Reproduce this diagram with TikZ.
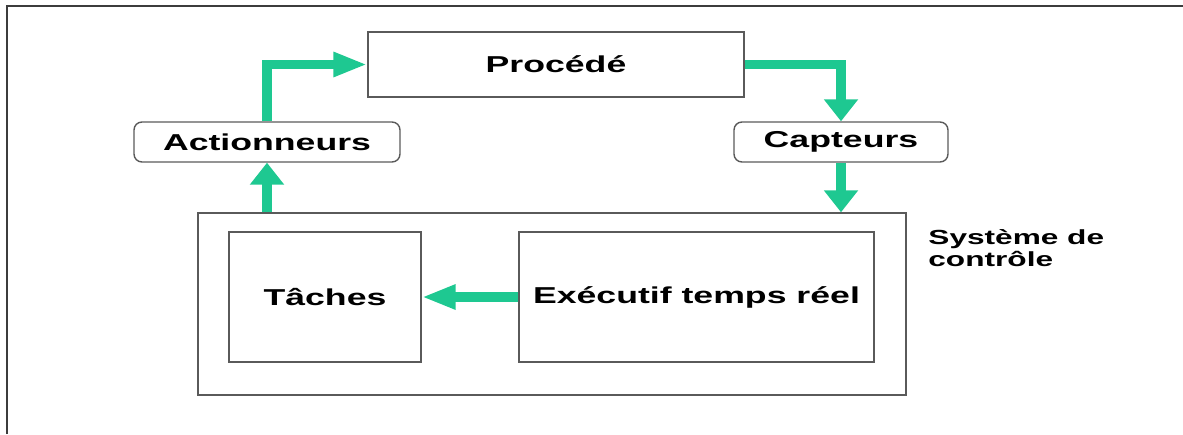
\documentclass[tikz,border=0pt]{standalone}
\usepackage{fontspec}
\setmainfont{Liberation Sans}
\newfontfamily\widefont[FakeStretch=1.55]{Liberation Sans}
\usepackage{xcolor}
\usetikzlibrary{positioning,arrows.meta}
\definecolor{flowgreen}{RGB}{30,200,145}
\definecolor{boxgray}{RGB}{90,90,90}
\definecolor{framegray}{RGB}{60,60,60}

\begin{document}
\begin{tikzpicture}[x=0.5pt,y=-0.5pt,
    block/.style={draw=boxgray,line width=0.7pt,inner sep=0pt,
      font=\widefont\bfseries\fontsize{11.5}{13}\selectfont},
    roundblock/.style={block,rounded corners=4pt},
    flow/.style={draw=flowgreen,line width=4.7pt},
    vflow/.style={flow,-{Triangle[length=11pt,width=16.5pt]}},
    hflow/.style={flow,-{Triangle[length=17pt,width=11.5pt]}}]
    \useasboundingbox (0,0) rectangle (1183,434);
    % page frame
    \draw[framegray,line width=1pt] (7,434) -- (7,5.5) -- (1183,5.5);
    % blocks
    \node[block,minimum width=188pt,minimum height=32.5pt] (proc) at (556,64.5) {Procédé};
    \node[roundblock,minimum width=133pt,minimum height=20pt] (act) at (267,142) {Actionneurs};
    \node[roundblock,minimum width=107pt,minimum height=20pt] (capt) at (841,142) {Capteurs};
    \node[block,minimum width=354pt,minimum height=91pt] (sys) at (552,304) {};
    \node[block,minimum width=96pt,minimum height=65pt] (task) at (325,297) {Tâches};
    \node[block,minimum width=177.5pt,minimum height=65pt] (exec) at (696.5,297) {Exécutif temps réel};
    \node[anchor=west,align=left,inner sep=0pt,
      font=\widefont\bfseries\fontsize{10.2}{11}\selectfont] (syslabel) at (928,248) {Système de\\contrôle};
    % flows
    \draw[hflow] (act.north) |- (proc.west);
    \draw[vflow] (proc.east) -| (capt.north);
    \draw[vflow] (capt.south) -- (sys.north -| capt.south);
    \draw[vflow] (sys.north -| act.south) -- (act.south);
    \draw[hflow] (exec.west) -- (task.east);
\end{tikzpicture}
\end{document}
